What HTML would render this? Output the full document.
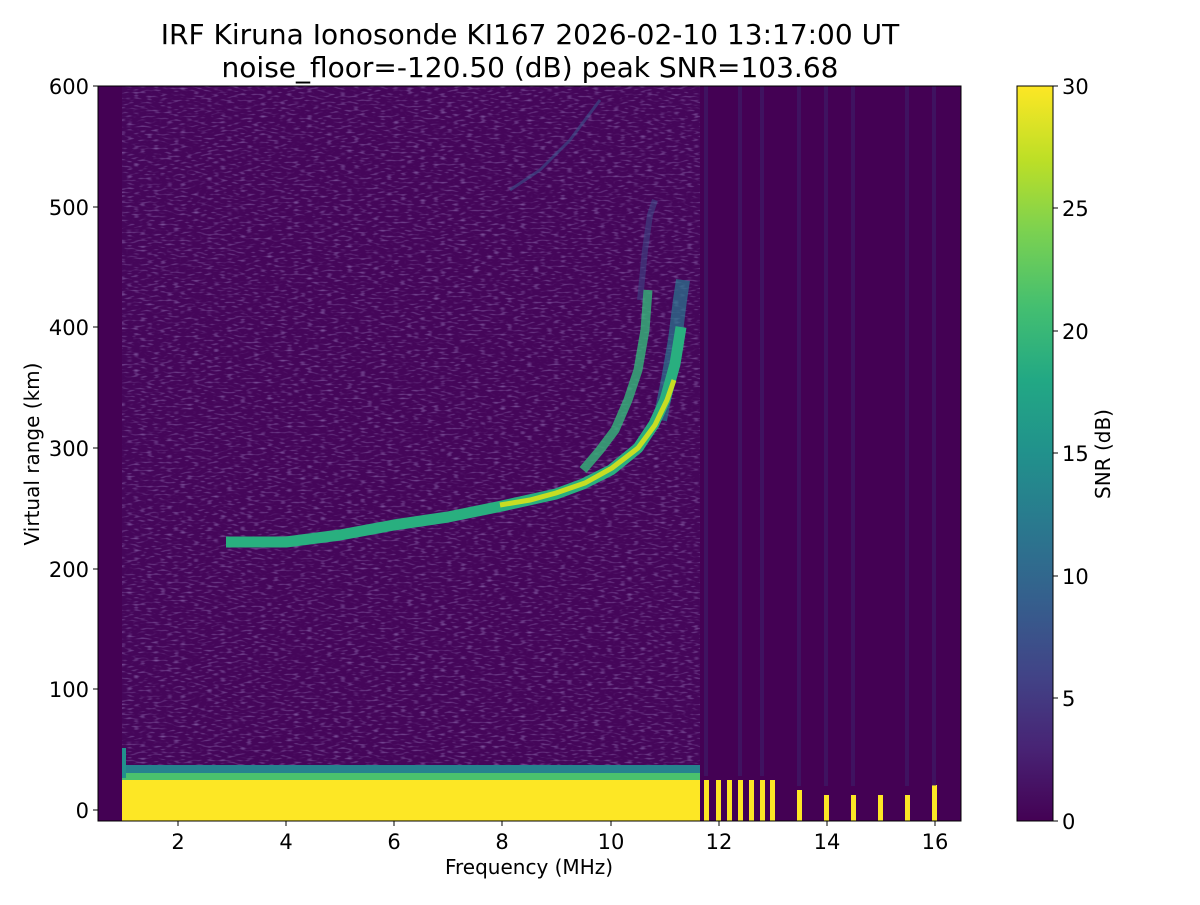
<!DOCTYPE html>
<html><head><style>
body{margin:0;background:#fff;}
svg text{font-family:"DejaVu Sans","Liberation Sans",sans-serif;fill:#000;}
</style></head><body>
<svg width="1200" height="900" viewBox="0 0 1200 900" xmlns="http://www.w3.org/2000/svg">
<defs>
<linearGradient id="vir" x1="0" y1="1" x2="0" y2="0">
<stop offset="0" stop-color="#440154"/>
<stop offset="0.1" stop-color="#482475"/>
<stop offset="0.2" stop-color="#414487"/>
<stop offset="0.3" stop-color="#355f8d"/>
<stop offset="0.4" stop-color="#2a788e"/>
<stop offset="0.5" stop-color="#21918c"/>
<stop offset="0.6" stop-color="#22a884"/>
<stop offset="0.7" stop-color="#44bf70"/>
<stop offset="0.8" stop-color="#7ad151"/>
<stop offset="0.9" stop-color="#bddf26"/>
<stop offset="1" stop-color="#fde725"/>
</linearGradient>
<filter id="nz" x="0" y="0" width="100%" height="100%">
<feTurbulence type="fractalNoise" baseFrequency="0.15 0.5" numOctaves="1" seed="3"/>
<feColorMatrix type="matrix" values="0 0 0 0 0.28  0 0 0 0 0.16  0 0 0 0 0.45  0 0 0 2.2 -1.15"/>
</filter>
</defs>
<text x="530" y="44" font-size="28" text-anchor="middle">IRF Kiruna Ionosonde KI167 2026-02-10 13:17:00  UT</text>
<text x="530" y="77" font-size="28" text-anchor="middle">noise_floor=-120.50 (dB) peak SNR=103.68</text>
<rect x="98" y="86" width="863" height="735" fill="#440154"/>
<rect x="122" y="86" width="578" height="690" fill="#45065a"/>
<rect x="122" y="86" width="578" height="690" filter="url(#nz)"/>
<polyline points="510,190 540,170 570,140 600,100" fill="none" stroke="#3b528b" stroke-width="3" opacity="0.6"/>
<polyline points="640,300 645,250 650,215 655,200" fill="none" stroke="#3b528b" stroke-width="6" opacity="0.5"/>
<polyline points="583,470 600,450 615,430 628,400 638,370 645,330 648,290" fill="none" stroke="#35b779" stroke-width="9" opacity="0.8"/>
<polyline points="660,420 668,380 675,340 680,300 683,280" fill="none" stroke="#2a788e" stroke-width="14" opacity="0.7"/>
<polyline points="226,542 286,542 340,535 394,525 448,517 502,506 556,494 583,484 611,470 638,448 654,424 665,400 675,364 681,327" fill="none" stroke="#29af7f" stroke-width="11" stroke-linejoin="round"/>
<polyline points="500,505 530,500 556,493 585,483 612,468 638,448 655,425 667,400 674,380" fill="none" stroke="#d8e219" stroke-width="5" opacity="0.9"/>
<rect x="122" y="765" width="578" height="14" fill="#26828e"/>
<rect x="122" y="773" width="578" height="8" fill="#4ac16d"/>
<rect x="122" y="780" width="578" height="41" fill="#fde725"/>
<rect x="122" y="748" width="4" height="30" fill="#21918c"/>
<g fill="#fde725">
<rect x="704" y="780" width="5" height="41"/><rect x="716" y="780" width="5" height="41"/>
<rect x="727" y="780" width="5" height="41"/><rect x="738" y="780" width="5" height="41"/>
<rect x="749" y="780" width="5" height="41"/><rect x="760" y="780" width="5" height="41"/>
<rect x="770" y="780" width="5" height="41"/><rect x="797" y="790" width="5" height="31"/>
<rect x="824" y="795" width="5" height="26"/><rect x="851" y="795" width="5" height="26"/>
<rect x="878" y="795" width="5" height="26"/><rect x="905" y="795" width="5" height="26"/>
<rect x="932" y="785" width="5" height="36"/>
</g>
<g fill="#3b2a70" opacity="0.45">
<rect x="704" y="86" width="4" height="690"/><rect x="738" y="86" width="4" height="690"/>
<rect x="760" y="86" width="4" height="690"/><rect x="797" y="86" width="4" height="700"/>
<rect x="824" y="86" width="4" height="700"/><rect x="851" y="86" width="4" height="700"/>
<rect x="905" y="86" width="4" height="700"/><rect x="932" y="86" width="4" height="700"/>
</g>
<rect x="98" y="86" width="863" height="735" fill="none" stroke="#000" stroke-width="1"/>
<g stroke="#000">
<line x1="178" y1="821" x2="178" y2="826"/><line x1="286" y1="821" x2="286" y2="826"/>
<line x1="394" y1="821" x2="394" y2="826"/><line x1="502" y1="821" x2="502" y2="826"/>
<line x1="611" y1="821" x2="611" y2="826"/><line x1="719" y1="821" x2="719" y2="826"/>
<line x1="827" y1="821" x2="827" y2="826"/><line x1="935" y1="821" x2="935" y2="826"/>
<line x1="93" y1="86" x2="98" y2="86"/><line x1="93" y1="207" x2="98" y2="207"/>
<line x1="93" y1="327" x2="98" y2="327"/><line x1="93" y1="448" x2="98" y2="448"/>
<line x1="93" y1="569" x2="98" y2="569"/><line x1="93" y1="689" x2="98" y2="689"/>
<line x1="93" y1="810" x2="98" y2="810"/>
</g>
<g font-size="21" text-anchor="middle">
<text x="178" y="849">2</text><text x="286" y="849">4</text><text x="394" y="849">6</text>
<text x="502" y="849">8</text><text x="611" y="849">10</text><text x="719" y="849">12</text>
<text x="827" y="849">14</text><text x="935" y="849">16</text>
</g>
<g font-size="21" text-anchor="end">
<text x="89" y="94">600</text><text x="89" y="215">500</text><text x="89" y="335">400</text>
<text x="89" y="456">300</text><text x="89" y="577">200</text><text x="89" y="697">100</text>
<text x="89" y="818">0</text>
</g>
<text x="529" y="874" font-size="20" text-anchor="middle">Frequency (MHz)</text>
<text transform="translate(39,454) rotate(-90)" font-size="20" text-anchor="middle">Virtual range (km)</text>
<rect x="1017" y="86" width="36" height="735" fill="url(#vir)" stroke="#000" stroke-width="1"/>
<g stroke="#000">
<line x1="1053" y1="86" x2="1058" y2="86"/><line x1="1053" y1="208" x2="1058" y2="208"/>
<line x1="1053" y1="331" x2="1058" y2="331"/><line x1="1053" y1="453" x2="1058" y2="453"/>
<line x1="1053" y1="576" x2="1058" y2="576"/><line x1="1053" y1="698" x2="1058" y2="698"/>
<line x1="1053" y1="821" x2="1058" y2="821"/>
</g>
<g font-size="21">
<text x="1062" y="94">30</text><text x="1062" y="216">25</text><text x="1062" y="339">20</text>
<text x="1062" y="461">15</text><text x="1062" y="584">10</text><text x="1062" y="706">5</text>
<text x="1062" y="829">0</text>
</g>
<text transform="translate(1110,454) rotate(-90)" font-size="20" text-anchor="middle">SNR (dB)</text>
</svg>
</body></html>
